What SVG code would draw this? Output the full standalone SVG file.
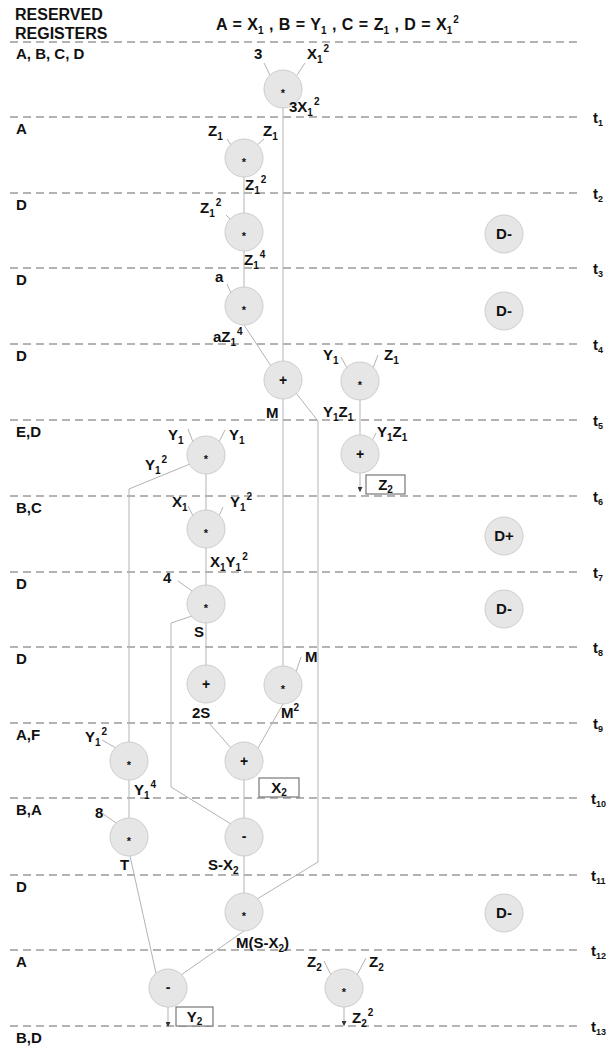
<svg xmlns="http://www.w3.org/2000/svg" width="608" height="1046" viewBox="0 0 608 1046">
<defs>
<style>
text{font-family:"Liberation Sans",Arial,sans-serif;font-weight:bold;fill:#111;font-size:15px}
.hd{font-size:16px}
.s{font-size:10px}
.ts{font-size:9px}
#grid line{stroke:#9a9a9a;stroke-width:1.3;stroke-dasharray:8 5}
.n circle{fill:#e6e6e6;stroke:#cdcdcd;stroke-width:1}
.ast{font-size:11px;text-anchor:middle}
.opb{font-size:14px;text-anchor:middle}
.dn{font-size:15px;text-anchor:middle}
#connectors line,#connectors polyline{stroke:#b3b3b3;stroke-width:1;fill:none}
.box{fill:#fff;stroke:#777;stroke-width:1.2}
.mid{text-anchor:middle}
</style>
<marker id="ah" markerWidth="5" markerHeight="5" refX="5" refY="2.5" orient="auto" markerUnits="userSpaceOnUse"><path d="M0,0 L5,2.5 L0,5 z" fill="#333"/></marker>
</defs>
<rect width="608" height="1046" fill="#fff"/>
<g id="header">
<text class="hd" x="15" y="20">RESERVED</text>
<text class="hd" x="15" y="39">REGISTERS</text>
<text class="hd" x="216" y="30" word-spacing="1">A = X<tspan class="s" dy="4">1</tspan><tspan dy="-4"> , B = Y</tspan><tspan class="s" dy="4">1</tspan><tspan dy="-4"> , C = Z</tspan><tspan class="s" dy="4">1</tspan><tspan dy="-4"> , D = X</tspan><tspan class="s" dy="4">1</tspan><tspan class="s" dx="1" dy="-11">2</tspan></text>
</g>
<g id="grid">
<line x1="10" y1="42" x2="578" y2="42"/>
<line x1="10" y1="117" x2="578" y2="117"/>
<line x1="10" y1="193" x2="578" y2="193"/>
<line x1="10" y1="268" x2="578" y2="268"/>
<line x1="10" y1="344" x2="578" y2="344"/>
<line x1="10" y1="420" x2="578" y2="420"/>
<line x1="10" y1="496" x2="578" y2="496"/>
<line x1="10" y1="572" x2="578" y2="572"/>
<line x1="10" y1="647" x2="578" y2="647"/>
<line x1="10" y1="723" x2="578" y2="723"/>
<line x1="10" y1="798" x2="578" y2="798"/>
<line x1="10" y1="875" x2="578" y2="875"/>
<line x1="10" y1="950" x2="578" y2="950"/>
<line x1="10" y1="1026" x2="578" y2="1026"/>
</g>
<g id="tlabels">
<text x="593" y="123">t<tspan class="ts" dy="3">1</tspan></text>
<text x="593" y="199">t<tspan class="ts" dy="3">2</tspan></text>
<text x="593" y="274">t<tspan class="ts" dy="3">3</tspan></text>
<text x="593" y="350">t<tspan class="ts" dy="3">4</tspan></text>
<text x="593" y="426">t<tspan class="ts" dy="3">5</tspan></text>
<text x="593" y="502">t<tspan class="ts" dy="3">6</tspan></text>
<text x="593" y="578">t<tspan class="ts" dy="3">7</tspan></text>
<text x="593" y="653">t<tspan class="ts" dy="3">8</tspan></text>
<text x="593" y="729">t<tspan class="ts" dy="3">9</tspan></text>
<text x="591" y="804">t<tspan class="ts" dy="3">10</tspan></text>
<text x="591" y="881">t<tspan class="ts" dy="3">11</tspan></text>
<text x="591" y="956">t<tspan class="ts" dy="3">12</tspan></text>
<text x="591" y="1032">t<tspan class="ts" dy="3">13</tspan></text>
</g>
<g id="registers">
<text x="16" y="59">A, B, C, D</text>
<text x="16" y="134">A</text>
<text x="16" y="210">D</text>
<text x="16" y="285">D</text>
<text x="16" y="361">D</text>
<text x="16" y="437">E,D</text>
<text x="16" y="513">B,C</text>
<text x="16" y="589">D</text>
<text x="16" y="664">D</text>
<text x="16" y="740">A,F</text>
<text x="16" y="815">B,A</text>
<text x="16" y="892">D</text>
<text x="16" y="967">A</text>
<text x="16" y="1043">B,D</text>
</g>
<g id="connectors">
<line x1="264" y1="63" x2="270" y2="75"/>
<line x1="305" y1="63" x2="297" y2="75"/>
<line x1="283" y1="108" x2="283" y2="361"/>
<line x1="227" y1="139" x2="231" y2="145"/>
<line x1="264" y1="139" x2="257" y2="145"/>
<line x1="244" y1="177" x2="244" y2="213"/>
<line x1="226" y1="215" x2="231" y2="220"/>
<line x1="244" y1="251" x2="244" y2="287"/>
<line x1="227" y1="284" x2="231" y2="293"/>
<line x1="244" y1="325" x2="271" y2="366"/>
<line x1="283" y1="399" x2="283" y2="666"/>
<polyline points="296,393 318,421 318,862 257,899"/>
<line x1="341" y1="357" x2="347" y2="368"/>
<line x1="378" y1="355" x2="373" y2="368"/>
<line x1="360" y1="400" x2="360" y2="435"/>
<line x1="376" y1="433" x2="372" y2="441"/>
<line x1="360" y1="473" x2="360" y2="492" marker-end="url(#ah)"/>
<line x1="188" y1="429" x2="193" y2="442"/>
<line x1="225" y1="430" x2="219" y2="442"/>
<polyline points="190,464 129,489 129,742"/>
<line x1="206" y1="474" x2="206" y2="510"/>
<line x1="188" y1="506" x2="193" y2="516"/>
<line x1="223" y1="507" x2="219" y2="516"/>
<line x1="206" y1="548" x2="206" y2="585"/>
<line x1="178" y1="581" x2="192" y2="591"/>
<line x1="206" y1="623" x2="206" y2="665"/>
<polyline points="192,616 171,623 171,787 231,824"/>
<line x1="208" y1="722" x2="231" y2="748"/>
<line x1="301" y1="657" x2="296" y2="672"/>
<line x1="283" y1="704" x2="258" y2="748"/>
<line x1="102" y1="740" x2="116" y2="748"/>
<line x1="129" y1="780" x2="129" y2="818"/>
<line x1="244" y1="780" x2="244" y2="818"/>
<line x1="102" y1="813" x2="116" y2="823"/>
<line x1="130" y1="856" x2="156" y2="973"/>
<line x1="244" y1="856" x2="244" y2="893"/>
<line x1="244" y1="931" x2="181" y2="975"/>
<line x1="168" y1="1007" x2="168" y2="1027" marker-end="url(#ah)"/>
<line x1="324" y1="961" x2="331" y2="975"/>
<line x1="366" y1="958" x2="357" y2="975"/>
<line x1="344" y1="1007" x2="344" y2="1026" marker-end="url(#ah)"/>
</g>
<g id="n1" class="n"><circle cx="283" cy="89" r="19"/><text class="ast" x="283" y="97">*</text></g>
<g id="n2" class="n"><circle cx="244" cy="158" r="19"/><text class="ast" x="244" y="166">*</text></g>
<g id="n3" class="n"><circle cx="244" cy="232" r="19"/><text class="ast" x="244" y="240">*</text></g>
<g id="n4" class="n"><circle cx="244" cy="306" r="19"/><text class="ast" x="244" y="314">*</text></g>
<g id="n5" class="n"><circle cx="283" cy="380" r="19"/><text class="opb" x="283" y="385">+</text></g>
<g id="n6" class="n"><circle cx="360" cy="381" r="19"/><text class="ast" x="360" y="389">*</text></g>
<g id="n7" class="n"><circle cx="206" cy="455" r="19"/><text class="ast" x="206" y="463">*</text></g>
<g id="n8" class="n"><circle cx="360" cy="454" r="19"/><text class="opb" x="360" y="459">+</text></g>
<g id="n9" class="n"><circle cx="206" cy="529" r="19"/><text class="ast" x="206" y="537">*</text></g>
<g id="n10" class="n"><circle cx="206" cy="604" r="19"/><text class="ast" x="206" y="612">*</text></g>
<g id="n11" class="n"><circle cx="206" cy="684" r="19"/><text class="opb" x="206" y="689">+</text></g>
<g id="n12" class="n"><circle cx="283" cy="685" r="19"/><text class="ast" x="283" y="693">*</text></g>
<g id="n13" class="n"><circle cx="129" cy="761" r="19"/><text class="ast" x="129" y="769">*</text></g>
<g id="n14" class="n"><circle cx="244" cy="761" r="19"/><text class="opb" x="244" y="766">+</text></g>
<g id="n15" class="n"><circle cx="129" cy="837" r="19"/><text class="ast" x="129" y="845">*</text></g>
<g id="n16" class="n"><circle cx="244" cy="837" r="19"/><text class="opb" x="244" y="841">-</text></g>
<g id="n17" class="n"><circle cx="244" cy="912" r="19"/><text class="ast" x="244" y="920">*</text></g>
<g id="n18" class="n"><circle cx="168" cy="988" r="19"/><text class="opb" x="168" y="992">-</text></g>
<g id="n19" class="n"><circle cx="344" cy="988" r="19"/><text class="ast" x="344" y="996">*</text></g>
<g id="d1" class="n"><circle cx="504" cy="234" r="19"/><text class="dn" x="504" y="239">D-</text></g>
<g id="d2" class="n"><circle cx="504" cy="311" r="19"/><text class="dn" x="504" y="316">D-</text></g>
<g id="d3" class="n"><circle cx="504" cy="536" r="19"/><text class="dn" x="504" y="541">D+</text></g>
<g id="d4" class="n"><circle cx="504" cy="609" r="19"/><text class="dn" x="504" y="614">D-</text></g>
<g id="d5" class="n"><circle cx="504" cy="913" r="19"/><text class="dn" x="504" y="918">D-</text></g>
<g id="outputs">
<rect class="box" x="366" y="475" width="39" height="19"/>
<text class="mid" x="385.5" y="490">Z<tspan class="s" dy="3">2</tspan></text>
<rect class="box" x="259" y="778" width="40" height="19"/>
<text class="mid" x="279" y="793">X<tspan class="s" dy="3">2</tspan></text>
<rect class="box" x="176" y="1007" width="37" height="19"/>
<text class="mid" x="194.5" y="1022">Y<tspan class="s" dy="3">2</tspan></text>
</g>
<g id="labels">
<text x="254" y="59">3</text>
<text x="307" y="59">X<tspan class="s" dy="4">1</tspan><tspan class="s" dx="1" dy="-11">2</tspan></text>
<text x="289" y="112">3X<tspan class="s" dy="4">1</tspan><tspan class="s" dx="1" dy="-11">2</tspan></text>
<text x="208" y="136">Z<tspan class="s" dy="4">1</tspan></text>
<text x="263" y="136">Z<tspan class="s" dy="4">1</tspan></text>
<text x="245" y="190">Z<tspan class="s" dy="4">1</tspan><tspan class="s" dx="1" dy="-11">2</tspan></text>
<text x="200" y="213">Z<tspan class="s" dy="4">1</tspan><tspan class="s" dx="1" dy="-11">2</tspan></text>
<text x="244" y="265">Z<tspan class="s" dy="4">1</tspan><tspan class="s" dx="1" dy="-11">4</tspan></text>
<text x="215" y="282">a</text>
<text x="213" y="342">aZ<tspan class="s" dy="4">1</tspan><tspan class="s" dx="1" dy="-11">4</tspan></text>
<text x="266" y="418">M</text>
<text x="323" y="360">Y<tspan class="s" dy="4">1</tspan></text>
<text x="384" y="360">Z<tspan class="s" dy="4">1</tspan></text>
<text x="323" y="417">Y<tspan class="s" dy="4">1</tspan><tspan dy="-4">Z</tspan><tspan class="s" dy="4">1</tspan></text>
<text x="168" y="440">Y<tspan class="s" dy="4">1</tspan></text>
<text x="229" y="440">Y<tspan class="s" dy="4">1</tspan></text>
<text x="145" y="470">Y<tspan class="s" dy="4">1</tspan><tspan class="s" dx="1" dy="-11">2</tspan></text>
<text x="377" y="437">Y<tspan class="s" dy="4">1</tspan><tspan dy="-4">Z</tspan><tspan class="s" dy="4">1</tspan></text>
<text x="172" y="507">X<tspan class="s" dy="4">1</tspan></text>
<text x="230" y="507">Y<tspan class="s" dy="4">1</tspan><tspan class="s" dx="1" dy="-11">2</tspan></text>
<text x="210" y="567">X<tspan class="s" dy="4">1</tspan><tspan dy="-4">Y</tspan><tspan class="s" dy="4">1</tspan><tspan class="s" dx="1" dy="-11">2</tspan></text>
<text x="163" y="583">4</text>
<text x="194" y="637">S</text>
<text x="192" y="718">2S</text>
<text x="305" y="662">M</text>
<text x="281" y="718">M<tspan class="s" dy="-7">2</tspan></text>
<text x="85" y="742">Y<tspan class="s" dy="4">1</tspan><tspan class="s" dx="1" dy="-11">2</tspan></text>
<text x="134" y="795">Y<tspan class="s" dy="4">1</tspan><tspan class="s" dx="1" dy="-11">4</tspan></text>
<text x="95" y="818">8</text>
<text x="120" y="870">T</text>
<text x="208" y="870">S-X<tspan class="s" dy="4">2</tspan></text>
<text x="236" y="948">M(S-X<tspan class="s" dy="4">2</tspan><tspan dy="-4">)</tspan></text>
<text x="307" y="967">Z<tspan class="s" dy="4">2</tspan></text>
<text x="369" y="967">Z<tspan class="s" dy="4">2</tspan></text>
<text x="352" y="1023">Z<tspan class="s" dy="4">2</tspan><tspan class="s" dx="1" dy="-11">2</tspan></text>
</g>
</svg>
